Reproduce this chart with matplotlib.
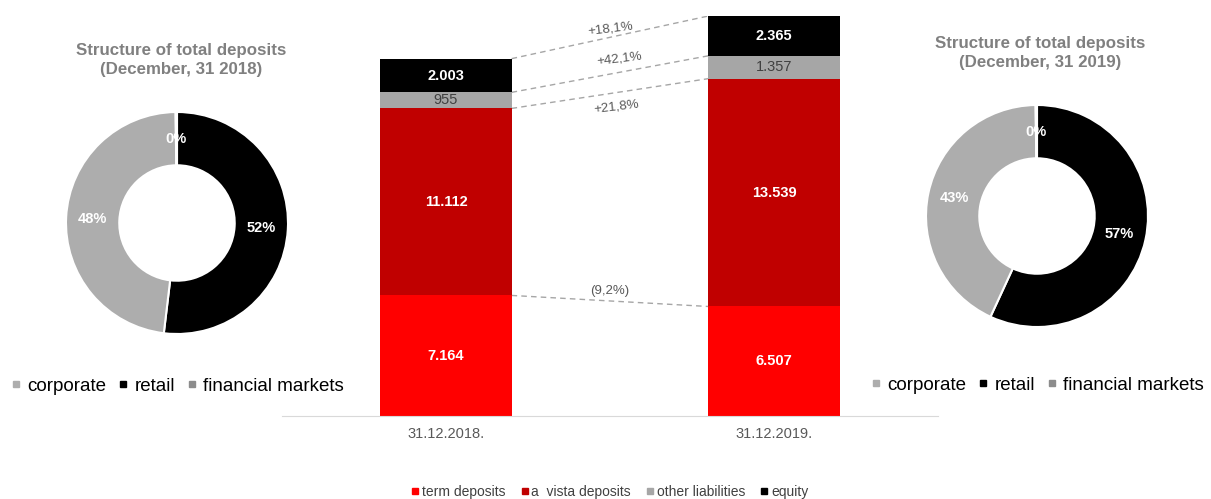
import matplotlib
matplotlib.use("Agg")
import matplotlib.pyplot as plt
from matplotlib.lines import Line2D

plt.rcParams['font.family'] = ['Liberation Sans', 'DejaVu Sans']

# ---------------- data ----------------
dates = ["31.12.2018.", "31.12.2019."]
series_names = ["term deposits", "a  vista deposits", "other liabilities", "equity"]
term_deposits = [7164, 6507]
avista_deposits = [11112, 13539]
other_liabilities = [955, 1357]
equity = [2003, 2365]
changes = ["(9,2%)", "+21,8%", "+42,1%", "+18,1%"]

donut_categories = ["corporate", "retail", "financial markets"]
donut_2018 = [48, 52, 0.2]
donut_2019 = [43, 57, 0.2]
donut_titles = ["Structure of total deposits\n(December, 31 2018)",
                "Structure of total deposits\n(December, 31 2019)"]

# ---------------- style ----------------
bar_colors = ["#FF0000", "#C00000", "#A6A6A6", "#000000"]
label_colors = ["white", "white", "#404040", "white"]
label_weights = ["bold", "bold", "normal", "bold"]
donut_colors = {"corporate": "#ADADAD", "retail": "#000000", "financial markets": "#8C8C8C"}

W, H = 1211, 499
fig = plt.figure(figsize=(W / 100, H / 100), dpi=100)


def px_axes(x0, y0, x1, y1):
    return fig.add_axes([x0 / W, 1 - y1 / H, (x1 - x0) / W, (y1 - y0) / H])


# ---------------- bar chart ----------------
ax = px_axes(282, 16, 938, 416)
series = [term_deposits, avista_deposits, other_liabilities, equity]
x = [0, 1]
bw = 0.4
bottoms = [0, 0]
tops_per_series = []
for s, vals in enumerate(series):
    ax.bar(x, vals, bw, bottom=bottoms, color=bar_colors[s], label=series_names[s], zorder=2)
    for i in range(2):
        ax.text(x[i], bottoms[i] + vals[i] / 2, f"{vals[i]:,}".replace(",", "."),
                ha="center", va="center", color=label_colors[s],
                fontsize=10.5, fontweight=label_weights[s], zorder=3)
    bottoms = [bottoms[i] + vals[i] for i in range(2)]
    tops_per_series.append(list(bottoms))

ymax = sum(v[1] for v in series)
ax.set_xlim(-0.5, 1.5)
ax.set_ylim(0, ymax)
upx = ymax / 400.0  # data units per pixel

# connector lines between segment tops
label_px_offsets = [10, -14, 13, 9]
label_rot = [0, 7, 7, 7]
label_dx = [0.0, 0.02, 0.03, 0.0]
for k, (lvl, txt) in enumerate(zip(tops_per_series, changes)):
    x0, x1 = x[0] + bw / 2, x[1] - bw / 2
    ax.plot([x0, x1], [lvl[0], lvl[1]], color="#A6A6A6", lw=1, ls=(0, (4, 3)), zorder=1)
    xm = (x0 + x1) / 2 + label_dx[k]
    ym = lvl[0] + (lvl[1] - lvl[0]) * (xm - x0) / (x1 - x0)
    ax.text(xm, ym + label_px_offsets[k] * upx, txt, ha="center", va="center",
            fontsize=9.5, color="#595959", rotation=label_rot[k], rotation_mode="anchor")

for sp in ["top", "right", "left"]:
    ax.spines[sp].set_visible(False)
ax.spines["bottom"].set_color("#D9D9D9")
ax.set_yticks([])
ax.set_xticks(x)
ax.set_xticklabels(dates, fontsize=10.5, color="#595959")
ax.tick_params(axis="x", length=0, pad=8)

handles = [Line2D([0], [0], marker="s", ls="", color=c, markersize=4) for c in bar_colors]
fig.legend(handles, series_names, loc="center", bbox_to_anchor=(610 / W, 1 - 492 / H),
           ncol=4, frameon=False, fontsize=10, handlelength=0.5, handletextpad=0.25,
           columnspacing=1.1, labelcolor="#404040")


# ---------------- donuts ----------------
def donut(cx, cy, r, values, title, tx, ty, leg_y):
    a = px_axes(cx - r, cy - r, cx + r, cy + r)
    order = [1, 0, 2]  # retail, corporate, financial markets (clockwise from 12 o'clock)
    vals = [values[i] for i in order]
    cols = [donut_colors[donut_categories[i]] for i in order]
    a.pie(vals, colors=cols, startangle=90, counterclock=False,
          radius=1.0, wedgeprops=dict(width=0.48, edgecolor="white", linewidth=1.5),
          labels=[f"{v:.0f}%" for v in vals], labeldistance=0.76,
          textprops=dict(color="white", fontsize=10.5, fontweight="bold",
                         ha="center", va="center"))
    a.set_xlim(-1, 1)
    a.set_ylim(-1, 1)
    a.set_aspect("equal")
    fig.text(tx / W, 1 - ty / H, title, ha="center", va="center", fontsize=12.2,
             fontweight="bold", color="#808080", linespacing=1.35)
    hs = [Line2D([0], [0], marker="s", ls="", color=donut_colors[c], markersize=5)
          for c in donut_categories]
    fig.legend(hs, donut_categories, loc="center", bbox_to_anchor=(cx / W, 1 - leg_y / H),
               ncol=3, frameon=False, fontsize=13.5, handlelength=0.6, handletextpad=0.3,
               columnspacing=0.6)


donut(177, 223, 111, donut_2018, donut_titles[0], 181, 60, 386)
donut(1037, 216, 111, donut_2019, donut_titles[1], 1040, 53, 385)

fig.savefig("out.png", dpi=100)
